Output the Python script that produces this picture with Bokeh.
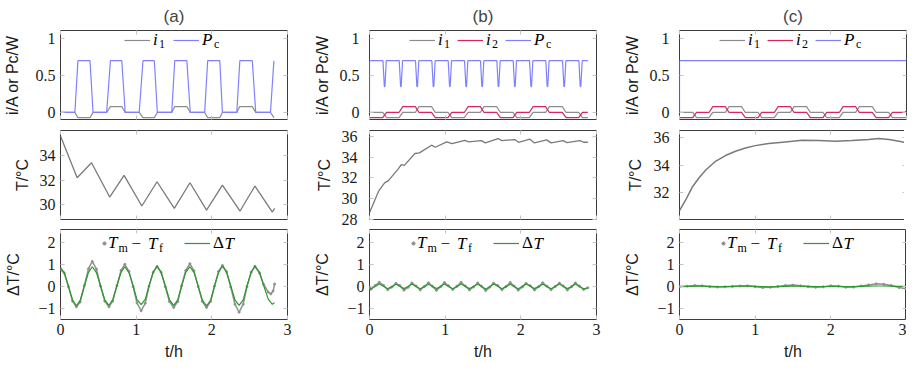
from bokeh.plotting import figure
from bokeh.layouts import gridplot
from bokeh.models import Range1d, LinearAxis, Legend, LegendItem, Label, FixedTicker
from bokeh.embed import file_html
from bokeh.resources import INLINE

# ---------------- data ----------------
panel_titles = ["(a)", "(b)", "(c)"]
time_ticks = [0, 1, 2, 3]

# (a) top: cooling power and current i1
t_a_top = [0.0, 0.19, 0.23, 0.39, 0.43, 0.61, 0.66, 0.81, 0.855, 1.04, 1.09, 1.24, 1.28, 1.47,
           1.51, 1.67, 1.715, 1.905, 1.945, 2.105, 2.14, 2.33, 2.37, 2.535, 2.58, 2.775, 2.82]
pc_a = [0, 0, 0.7, 0.7, 0, 0, 0.7, 0.7, 0, 0, 0.7, 0.7, 0, 0, 0.7, 0.7, 0, 0, 0.7, 0.7, 0, 0,
        0.7, 0.7, 0, 0, 0.7]
i1_a = [0, 0, -0.07, -0.07, 0, 0, 0.08, 0.08, 0, 0, -0.07, -0.07, 0, 0, 0.08, 0.08, 0, 0,
        -0.07, -0.07, 0, 0, 0.08, 0.08, 0, 0, -0.07]

# (b) top
t_b_pc = [0.0, 0.0,
          0.178, 0.196, 0.204, 0.222, 0.393, 0.411, 0.419, 0.437, 0.608, 0.626, 0.634, 0.652,
          0.824, 0.842, 0.85, 0.868, 1.04, 1.058, 1.066, 1.084, 1.256, 1.274, 1.282, 1.30,
          1.467, 1.485, 1.493, 1.511, 1.683, 1.701, 1.709, 1.727, 1.899, 1.917, 1.925, 1.943,
          2.115, 2.133, 2.141, 2.159, 2.33, 2.348, 2.356, 2.374, 2.551, 2.569, 2.577, 2.595,
          2.767, 2.785, 2.793, 2.811, 2.885]
pc_b = [0.0, 0.7,
        0.7, 0.35, 0.35, 0.7, 0.7, 0.35, 0.35, 0.7, 0.7, 0.35, 0.35, 0.7,
        0.7, 0.35, 0.35, 0.7, 0.7, 0.35, 0.35, 0.7, 0.7, 0.35, 0.35, 0.7,
        0.7, 0.35, 0.35, 0.7, 0.7, 0.35, 0.35, 0.7, 0.7, 0.35, 0.35, 0.7,
        0.7, 0.35, 0.35, 0.7, 0.7, 0.35, 0.35, 0.7, 0.7, 0.35, 0.35, 0.7,
        0.7, 0.35, 0.35, 0.7, 0.7]
t_b_i = [0.0, 0.175, 0.225, 0.39, 0.44, 0.605, 0.655, 0.82, 0.87, 1.037, 1.087, 1.253, 1.303,
         1.464, 1.514, 1.68, 1.73, 1.896, 1.946, 2.112, 2.162, 2.327, 2.377, 2.548, 2.598,
         2.764, 2.814, 2.885]
i1_b = [0, 0, -0.07, -0.07, 0, 0, 0.08, 0.08, 0, 0, -0.07, -0.07, 0, 0, 0.08, 0.08, 0, 0,
        -0.07, -0.07, 0, 0, 0.08, 0.08, 0, 0, -0.07, -0.07]
i2_b = [-0.07, -0.07, 0, 0, 0.08, 0.08, 0, 0, -0.07, -0.07, 0, 0, 0.08, 0.08, 0, 0,
        -0.07, -0.07, 0, 0, 0.08, 0.08, 0, 0, -0.07, -0.07, 0, 0]

# (c) top
t_c_pc = [0.0, 0.0, 3.0]
pc_c = [0.0, 0.7, 0.7]
t_c_i = [0.0, 0.175, 0.225, 0.39, 0.44, 0.605, 0.655, 0.82, 0.87, 1.037, 1.087, 1.253, 1.303,
         1.464, 1.514, 1.68, 1.73, 1.896, 1.946, 2.112, 2.162, 2.327, 2.377, 2.548, 2.598,
         2.764, 2.814, 2.975, 3.0]
i1_c = [0, 0, -0.07, -0.07, 0, 0, 0.08, 0.08, 0, 0, -0.07, -0.07, 0, 0, 0.08, 0.08, 0, 0,
        -0.07, -0.07, 0, 0, 0.08, 0.08, 0, 0, -0.07, -0.07, -0.065]
i2_c = [-0.07, -0.07, 0, 0, 0.08, 0.08, 0, 0, -0.07, -0.07, 0, 0, 0.08, 0.08, 0, 0,
        -0.07, -0.07, 0, 0, 0.08, 0.08, 0, 0, -0.07, -0.07, 0, 0, 0.02]

# temperature T
t_a_T = [0.0, 0.22, 0.41, 0.65, 0.84, 1.075, 1.276, 1.504, 1.711, 1.93, 2.14, 2.373, 2.57, 2.80, 2.83]
T_a = [35.59, 32.19, 33.41, 30.61, 32.38, 29.88, 31.86, 29.69, 31.78, 29.55, 31.59, 29.47,
       31.51, 29.39, 29.69]
t_b_T = [0.0, 0.12, 0.2, 0.25, 0.38, 0.42, 0.46, 0.6, 0.66, 0.82, 0.87, 1.02, 1.09, 1.26, 1.31,
         1.48, 1.53, 1.7, 1.75, 1.92, 1.97, 2.12, 2.18, 2.34, 2.4, 2.56, 2.61, 2.78, 2.83, 2.885]
T_b = [28.64, 30.72, 31.52, 31.74, 32.86, 33.28, 33.2, 34.34, 34.4, 35.14, 34.94, 35.46, 35.3,
       35.6, 35.46, 35.58, 35.36, 35.78, 35.58, 35.68, 35.42, 35.71, 35.36, 35.65, 35.36,
       35.58, 35.39, 35.58, 35.42, 35.42]
t_c_T = [0.0, 0.08, 0.167, 0.256, 0.344, 0.476, 0.608, 0.74, 0.872, 1.0, 1.18, 1.4, 1.62, 1.84,
         2.06, 2.28, 2.5, 2.63, 2.77, 2.9, 3.0]
T_c = [30.72, 31.47, 32.41, 33.09, 33.65, 34.3, 34.72, 35.03, 35.27, 35.44, 35.59, 35.71, 35.83,
       35.81, 35.76, 35.81, 35.88, 35.95, 35.88, 35.76, 35.64]

# temperature difference: Delta T (model) and Tm - Tf (measured)
t_a_dT = [0.0, 0.05, 0.105, 0.16, 0.21, 0.26, 0.315, 0.37, 0.42, 0.475, 0.53, 0.585, 0.64, 0.69,
          0.745, 0.80, 0.85, 0.905, 0.96, 1.01, 1.066, 1.12, 1.17, 1.225, 1.276, 1.33, 1.385,
          1.44, 1.496, 1.55, 1.6, 1.655, 1.71, 1.765, 1.82, 1.875, 1.93, 1.985, 2.035, 2.09,
          2.14, 2.195, 2.25, 2.305, 2.36, 2.415, 2.465, 2.52, 2.57, 2.63, 2.685, 2.745, 2.80, 2.83]
dT_a = [0.87, 0.64, 0.02, -0.62, -0.88, -0.63, 0.02, 0.65, 0.91, 0.64, 0.02, -0.6, -0.85, -0.6,
        0.03, 0.65, 0.91, 0.64, 0.04, -0.58, -0.82, -0.58, 0.05, 0.66, 0.94, 0.66, 0.04, -0.6,
        -0.85, -0.6, 0.03, 0.65, 0.91, 0.64, 0.01, -0.62, -0.88, -0.62, 0.03, 0.66, 0.94, 0.66,
        0.04, -0.6, -0.85, -0.6, 0.05, 0.66, 0.94, 0.66, 0.05, -0.57, -0.81, -0.73]
t_a_dm = [0.0, 0.05, 0.105, 0.16, 0.21, 0.26, 0.315, 0.37, 0.42, 0.475, 0.53, 0.585, 0.64, 0.69,
          0.745, 0.80, 0.85, 0.905, 0.96, 1.01, 1.066, 1.12, 1.17, 1.225, 1.276, 1.33, 1.385,
          1.44, 1.496, 1.55, 1.6, 1.655, 1.71, 1.765, 1.82, 1.875, 1.93, 1.985, 2.035, 2.09,
          2.14, 2.195, 2.25, 2.305, 2.36, 2.415, 2.465, 2.52, 2.57, 2.63, 2.685, 2.745, 2.78,
          2.81, 2.83]
dm_a = [0.78, 0.62, 0.0, -0.66, -0.92, -0.7, 0.05, 0.82, 1.15, 0.8, 0.02, -0.66, -0.92, -0.66,
        0.04, 0.74, 1.02, 0.7, 0.0, -0.74, -1.1, -0.76, 0.02, 0.66, 0.92, 0.65, 0.0, -0.68,
        -0.95, -0.68, 0.03, 0.74, 1.05, 0.72, 0.0, -0.68, -0.95, -0.67, 0.02, 0.7, 0.97, 0.68,
        -0.02, -0.8, -1.17, -0.8, 0.0, 0.66, 0.93, 0.62, 0.1, -0.25, -0.33, -0.2, 0.12]

t_b_dT = [0.0, 0.02, 0.075, 0.13, 0.185, 0.24, 0.295, 0.35, 0.40, 0.455, 0.51, 0.56, 0.615,
          0.67, 0.725, 0.78, 0.83, 0.885, 0.94, 0.99, 1.045, 1.10, 1.155, 1.21, 1.265, 1.32,
          1.375, 1.43, 1.48, 1.535, 1.59, 1.64, 1.695, 1.75, 1.805, 1.86, 1.91, 1.965, 2.02,
          2.07, 2.125, 2.18, 2.235, 2.29, 2.345, 2.40, 2.455, 2.51, 2.56, 2.615, 2.67, 2.72,
          2.775, 2.83, 2.885]
dT_b = [-0.08, -0.1, 0.01, 0.12, 0.02, -0.1, 0.0, 0.11, 0.02, -0.09, 0.01, 0.12, 0.01, -0.1,
        0.0, 0.11, 0.02, -0.09, 0.01, 0.12, 0.01, -0.1, 0.0, 0.12, 0.02, -0.09, 0.01, 0.11, 0.01,
        -0.11, 0.0, 0.12, 0.02, -0.1, 0.0, 0.11, 0.01, -0.1, 0.01, 0.12, 0.02, -0.09, 0.0, 0.11,
        0.01, -0.1, 0.01, 0.12, 0.02, -0.09, 0.0, 0.12, 0.01, -0.1, -0.06]
dm_b = [-0.05, -0.12, 0.05, 0.2, 0.06, -0.14, -0.02, 0.15, 0.05, -0.16, -0.03, 0.17, 0.03, -0.15,
        0.01, 0.18, 0.02, -0.17, 0.0, 0.19, 0.04, -0.13, 0.02, 0.2, 0.03, -0.15, -0.01, 0.17,
        0.02, -0.18, -0.02, 0.16, 0.05, -0.14, 0.01, 0.19, 0.03, -0.16, -0.01, 0.15, 0.04, -0.15,
        0.0, 0.18, 0.02, -0.14, 0.01, 0.16, 0.03, -0.15, 0.0, 0.17, 0.02, -0.13, -0.05]

t_c_dT = [0.0, 0.1, 0.2, 0.3, 0.4, 0.5, 0.6, 0.7, 0.8, 0.9, 1.0, 1.1, 1.2, 1.3, 1.4, 1.5, 1.6,
          1.7, 1.8, 1.9, 2.0, 2.1, 2.2, 2.3, 2.4, 2.5, 2.6, 2.7, 2.8, 2.9, 3.0]
dT_c = [0.01, 0.01, 0.02, 0.02, 0.01, 0.0, 0.0, 0.01, 0.02, 0.02, 0.01, 0.0, -0.01, 0.0, 0.01,
        0.02, 0.02, 0.01, 0.0, 0.0, 0.01, 0.01, 0.0, 0.0, 0.01, 0.02, 0.03, 0.03, 0.02, 0.01, 0.01]
dm_c = [0.0, 0.02, 0.05, 0.04, 0.0, -0.02, -0.01, 0.01, 0.03, 0.04, 0.0, -0.04, -0.03, 0.01,
        0.05, 0.07, 0.04, 0.0, -0.03, -0.01, 0.04, 0.02, -0.03, -0.02, 0.03, 0.08, 0.13, 0.11,
        0.05, -0.04, -0.1]

# ---------------- styling ----------------
GRAY_I = "#8c8c8c"
RED = "#d7265b"
BLUE = "#8080ff"
GRAY_T = "#7a7a7a"
GRAY_D = "#909090"
GREEN = "#2a9a2a"
TICK = "#c4c4c4"
FRAME = "#3c3c3c"

FW = 227
FH = [89, 89, 90]
LB = 56
RB = [23, 24, 1]
TB = [29, 6, 2]
BB = [5, 8, 46]

SERIF = "Liberation Serif"
SANS = "Liberation Sans"


def mirror_axis(p, ticks, loc):
    ax = LinearAxis(ticker=FixedTicker(ticks=ticks), axis_line_color=None,
                    major_tick_in=4, major_tick_out=0, minor_tick_in=0, minor_tick_out=0,
                    major_tick_line_color=TICK, minor_tick_line_color=None,
                    major_label_text_font_size="0px", major_label_text_color=None,
                    major_label_standoff=0)
    p.add_layout(ax, loc)


def make(col, row, yr, yticks, overrides, ylabel, ystand, als):
    kw = {}
    if row == 0:
        kw["title"] = panel_titles[col]
    p = figure(frame_width=FW, frame_height=FH[row], x_range=Range1d(0, 3),
               y_range=Range1d(*yr), output_backend="svg", toolbar_location=None, tools="",
               min_border_left=LB, min_border_right=RB[col], min_border_top=TB[row],
               min_border_bottom=BB[row], background_fill_color="white",
               border_fill_color="white", **kw)
    if row == 0:
        p.title.align = "center"
        p.title.text_font = SANS
        p.title.text_font_size = "17px"
        p.title.text_font_style = "normal"
        p.title.standoff = 9
    p.outline_line_color = FRAME
    p.outline_line_width = 1
    p.xgrid.visible = False
    p.ygrid.visible = False

    xa = p.xaxis[0]
    ya = p.yaxis[0]
    for ax in (xa, ya):
        ax.axis_line_color = None
        ax.major_tick_in = 4
        ax.major_tick_out = 0
        ax.minor_tick_line_color = None
        ax.major_tick_line_color = TICK
        ax.major_label_text_font = SERIF
        ax.major_label_text_font_size = "16px"
        ax.major_label_text_color = "#1a1a1a"
        ax.axis_label_text_font = SANS
        ax.axis_label_text_font_size = "16px"
        ax.axis_label_text_font_style = "normal"
        ax.axis_label_text_color = "#1a1a1a"
    xa.ticker = FixedTicker(ticks=time_ticks)
    ya.ticker = FixedTicker(ticks=yticks)
    if overrides:
        ya.major_label_overrides = overrides
    ya.major_label_standoff = ystand
    ya.axis_label = ylabel
    ya.axis_label_standoff = als
    if row == 2:
        xa.major_label_standoff = 4
        xa.axis_label = "t/h"
        xa.axis_label_standoff = 5
    else:
        xa.major_label_text_font_size = "0px"
        xa.major_label_text_color = None
        xa.major_label_standoff = 0
    mirror_axis(p, yticks, "right")
    mirror_axis(p, time_ticks, "above")
    return p


def legend_entry(p, rend, x, yc, gw, standoff, text, style):
    lg = Legend(items=[LegendItem(label=text, renderers=[rend])], location=(x, yc - 10),
                orientation="horizontal", glyph_width=gw, glyph_height=20, label_height=20,
                label_width=0, label_standoff=standoff, padding=0, margin=0, spacing=0,
                border_line_color=None, background_fill_alpha=0.0,
                label_text_font=SERIF, label_text_font_size="17px",
                label_text_font_style=style, label_text_color="black")
    p.add_layout(lg)


def txt(p, x, y, s, size="12px", style="normal"):
    p.add_layout(Label(x=x, y=y, x_units="screen", y_units="screen", text=s,
                       text_font=SERIF, text_font_size=size, text_font_style=style,
                       text_baseline="middle", text_align="left", text_color="black"))


top_range = (-0.095, 1.108)
top_ticks = [0, 0.5, 1]
top_over = {0: "0", 0.5: "0.5", 1: "1"}
d_range = (-1.5, 2.61)
d_ticks = [-1, 0, 1, 2]
d_over = {-1: "\u22121", 0: "0", 1: "1", 2: "2"}
top_label = "i/A or Pc/W"

figs = [[None] * 3 for _ in range(3)]

# ----- row 0 -----
yc0 = FH[0] - 9.5
p = make(0, 0, top_range, top_ticks, top_over, top_label, 5, 12)
r_i1 = p.line(t_a_top, i1_a, color=GRAY_I, line_width=1.2)
r_pc = p.line(t_a_top, pc_a, color=BLUE, line_width=1.2)
legend_entry(p, r_i1, 64, yc0, 26, 3, "i", "italic")
txt(p, 98.5, yc0 - 4, "1")
legend_entry(p, r_pc, 113, yc0, 26, 3, "P", "italic")
txt(p, 153.5, yc0 - 4, "c")
figs[0][0] = p

for col, (tpc, pcv, ti, i1v, i2v) in ((1, (t_b_pc, pc_b, t_b_i, i1_b, i2_b)),
                                      (2, (t_c_pc, pc_c, t_c_i, i1_c, i2_c))):
    p = make(col, 0, top_range, top_ticks, top_over, top_label, 10, 6)
    r_i1 = p.line(ti, i1v, color=GRAY_I, line_width=1.2)
    r_i2 = p.line(ti, i2v, color=RED, line_width=1.2)
    r_pc = p.line(tpc, pcv, color=BLUE, line_width=1.2)
    legend_entry(p, r_i1, 40, yc0, 26, 3, "i", "italic")
    txt(p, 74.5, yc0 - 4, "1")
    legend_entry(p, r_i2, 88, yc0, 26, 3, "i", "italic")
    txt(p, 122.5, yc0 - 4, "2")
    legend_entry(p, r_pc, 136, yc0, 26, 3, "P", "italic")
    txt(p, 176.5, yc0 - 4, "c")
    figs[0][col] = p

# ----- row 1 -----
p = make(0, 1, (28.78, 36.04), [30, 32, 34], None, "T/°C", 5, 6)
p.line(t_a_T, T_a, color=GRAY_T, line_width=1.3)
figs[1][0] = p
p = make(1, 1, (28.0, 36.55), [28, 30, 32, 34, 36], None, "T/°C", 12, 6)
p.line(t_b_T, T_b, color=GRAY_T, line_width=1.3)
figs[1][1] = p
p = make(2, 1, (30.07, 36.54), [32, 34, 36], None, "T/°C", 10, 7)
p.line(t_c_T, T_c, color=GRAY_T, line_width=1.5)
figs[1][2] = p

# ----- row 2 -----
yc2 = FH[2] - 14
for col, (tg, g, tm, m) in enumerate(((t_a_dT, dT_a, t_a_dm, dm_a),
                                      (t_b_dT, dT_b, t_b_dT, dm_b),
                                      (t_c_dT, dT_c, t_c_dT, dm_c))):
    p = make(col, 2, d_range, d_ticks, d_over, "ΔT/°C", 5, 13)
    p.line(tm, m, color=GRAY_D, line_width=1.5)
    r_m = p.scatter(tm, m, size=2, color=GRAY_D, marker="circle")
    r_g = p.line(tg, g, color=GREEN, line_width=1.2)
    legend_entry(p, r_m, 40, yc2, 8, 0, "T", "italic")
    txt(p, 58, yc2 - 4, "m")
    txt(p, 71, yc2, "\u2212", size="17px")
    txt(p, 87.5, yc2, "T", size="17px", style="italic")
    txt(p, 98.5, yc2 - 4, "f")
    legend_entry(p, r_g, 124, yc2, 26, 3, "Δ", "normal")
    txt(p, 164, yc2, "T", size="17px", style="italic")
    figs[2][col] = p

grid = gridplot(figs, toolbar_location=None)
open("out.html", "w").write(file_html(grid, INLINE))
